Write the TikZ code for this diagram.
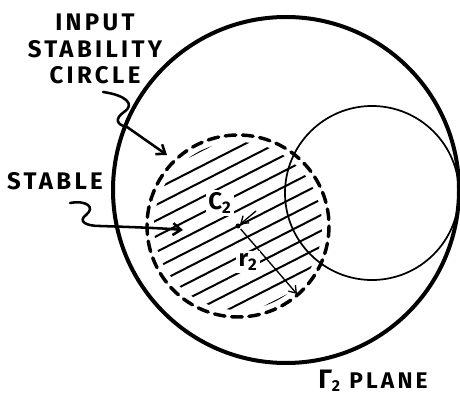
\documentclass[tikz,border=0pt]{standalone}
\usepackage{fontspec}
\setmainfont{Fira Sans}
\newfontfamily\handfont[LetterSpace=14]{Fira Sans}
\usetikzlibrary{arrows.meta, calc}
\tikzset{
  callarr/.style = {-{Straight Barb[length=6pt,width=9pt]}, line width=1.9pt, line cap=round},
  thinarr/.style = {-{Straight Barb[length=5pt,width=7pt]}, line width=1pt},
  %% Circle presets
  planecirc/.style = {line width=3pt},
  loadcirc/.style  = {line width=1.3pt},
  isccirc/.style   = {line width=2.6pt, dash pattern=on 8pt off 5pt, line cap=round},
  hatch/.style     = {line width=1.5pt, line cap=round},
  hand/.style      = {font=\handfont\fontsize{18}{20}\selectfont\bfseries, align=center, inner sep=0pt},
}
\begin{document}
\begin{tikzpicture}[x=0.75pt, y=-0.75pt]
\useasboundingbox (0,0) rectangle (460,402);

%% ---- (1) Centres ----
\coordinate (gamma) at (286,190);
\coordinate (load)  at (372,193);
\coordinate (c2)    at (238,226);

%% ---- (2) Hatching of the stable region ----
\begin{scope}
  \clip (c2) circle (84);
  \foreach \d in {-84,-70,...,84}
    \draw[hatch] ($(c2)+({0.454*\d-98},{0.891*\d+50})$) -- ++(196,-100);
\end{scope}

%% ---- (3) Circles ----
\draw[planecirc] (gamma) circle (173);
\draw[loadcirc]  (load)  circle (87);
\draw[isccirc]   (c2)    circle (91);

%% ---- (4) Centre and radius ----
\fill (c2) circle (2.5);
\node[hand, fill=white, inner sep=2pt] (c2lbl) at (220,203) {C\textsubscript{2}};
\draw[thinarr, shorten >=2pt] ($(c2)+(18,-15)$) -- (c2);

\coordinate (r2tip) at (297,294);
\draw[thinarr, shorten <=3pt] (c2) -- (r2tip);
\node[hand, fill=white, inner sep=2pt] (r2lbl) at (248,262) {r\textsubscript{2}};

%% ---- (5) Labels ----
\node[hand] (isclbl)    at (95,49)   {INPUT\\STABILITY\\CIRCLE};
\node[hand] (stablelbl) at (55,181)  {STABLE};
\node[hand, font=\handfont\fontsize{17}{19}\selectfont\bfseries] (planelbl) at (373,381)
  {{\fontsize{20}{20}\selectfont Γ}\textsubscript{2} PLANE};

%% ---- (6) Call-out arrows ----
\coordinate (isctail)    at (103,92);
\coordinate (isctip)     at (167,155);
\coordinate (stabletail) at (70,203);
\coordinate (stabletip)  at (183,230);

\draw[callarr] (isctail) .. controls (125,95) and (136,104) .. (124,112)
  .. controls (114,119) and (117,125) .. (127,127) -- (isctip);
\draw[callarr] (stabletail) .. controls (86,200) and (96,207) .. (86,215)
  .. controls (78,221) and (85,226) .. (100,226)
  .. controls (130,227) and (160,228) .. (stabletip);

\end{tikzpicture}
\end{document}
